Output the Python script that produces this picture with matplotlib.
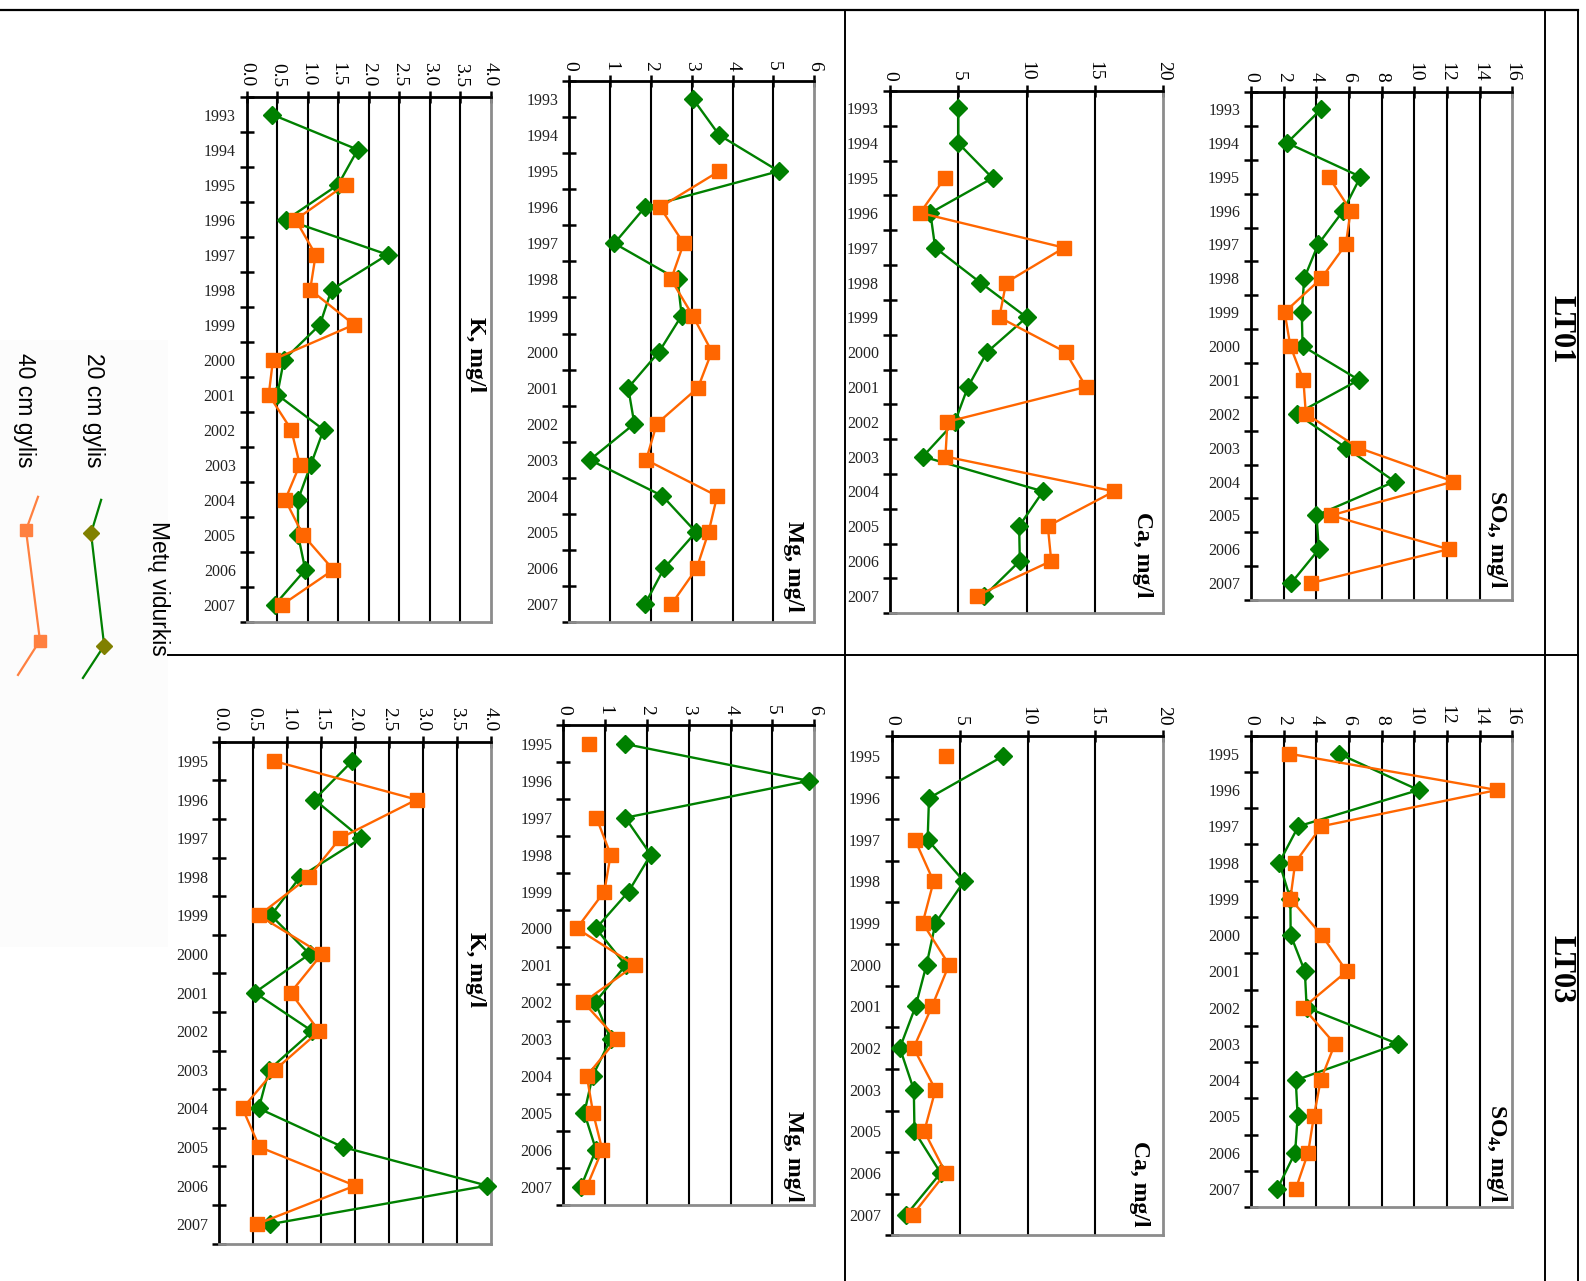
import matplotlib
matplotlib.use("Agg")
import matplotlib.pyplot as plt
import numpy as np

plt.rcParams["font.family"] = ["Liberation Serif", "DejaVu Serif"]
plt.rcParams["mathtext.fontset"] = "custom"
plt.rcParams["mathtext.rm"] = "Liberation Serif:bold"
plt.rcParams["mathtext.it"] = "Liberation Serif:italic:bold"
plt.rcParams["mathtext.bf"] = "Liberation Serif:bold"

nan = np.nan

# categories
years_93 = [str(y) for y in range(1993, 2008)]
years_95 = [str(y) for y in range(1995, 2008)]
years_95_no04 = ["1995", "1996", "1997", "1998", "1999", "2000", "2001", "2002",
                 "2003", "2005", "2006", "2007"]

# LT01, 1993-2007
lt01_so4_20 = [4.3, 2.2, 6.7, 5.65, 4.1, 3.25, 3.1, 3.15, 6.6, 2.8, 5.8, 8.8, 4.0, 4.15, 2.45]
lt01_so4_40 = [nan, nan, 4.75, 6.1, 5.8, 4.3, 2.05, 2.4, 3.2, 3.35, 6.55, 12.4, 4.9, 12.1, 3.65]
lt01_ca_20 = [5.0, 5.0, 7.5, 2.95, 3.3, 6.6, 10.0, 7.1, 5.7, 4.75, 2.4, 11.2, 9.45, 9.5, 6.9]
lt01_ca_40 = [nan, nan, 4.0, 2.2, 12.75, 8.5, 8.0, 12.85, 14.35, 4.2, 4.05, 16.4, 11.55, 11.8, 6.35]
lt01_mg_20 = [3.03, 3.67, 5.13, 1.85, 1.1, 2.65, 2.75, 2.2, 1.44, 1.59, 0.5, 2.28, 3.1, 2.32, 1.85]
lt01_mg_40 = [nan, nan, 3.67, 2.22, 2.8, 2.49, 3.02, 3.49, 3.15, 2.14, 1.88, 3.62, 3.41, 3.12, 2.5]
lt01_k_20 = [0.42, 1.82, 1.5, 0.65, 2.31, 1.39, 1.2, 0.61, 0.5, 1.26, 1.05, 0.84, 0.84, 0.96, 0.46]
lt01_k_40 = [nan, nan, 1.62, 0.8, 1.13, 1.04, 1.76, 0.43, 0.36, 0.73, 0.87, 0.63, 0.92, 1.42, 0.58]

# LT03, 1995-2007 (Ca without 2004)
lt03_so4_20 = [5.37, 10.26, 2.89, 1.72, 2.4, 2.42, 3.29, 3.4, 9.0, 2.73, 2.85, 2.69, 1.6]
lt03_so4_40 = [2.34, 15.07, 4.3, 2.7, 2.4, 4.32, 5.86, 3.19, 5.13, 4.26, 3.84, 3.49, 2.73]
lt03_ca_20 = [8.15, 2.72, 2.62, 5.3, 3.2, 2.54, 1.73, 0.57, 1.6, 1.65, 3.58, 1.06]
lt03_ca_40 = [3.95, nan, 1.68, 3.06, 2.25, 4.2, 2.94, 1.58, 3.2, 2.37, 3.95, 1.53]
lt03_mg_20 = [1.47, 5.87, 1.48, 2.09, 1.56, 0.78, 1.49, 0.76, 1.13, 0.7, 0.5, 0.78, 0.42]
lt03_mg_40 = [0.62, nan, 0.79, 1.13, 0.98, 0.32, 1.71, 0.48, 1.28, 0.56, 0.71, 0.93, 0.56]
lt03_k_20 = [1.96, 1.4, 2.09, 1.19, 0.76, 1.33, 0.52, 1.37, 0.73, 0.58, 1.82, 3.95, 0.74]
lt03_k_40 = [0.8, 2.91, 1.78, 1.32, 0.58, 1.51, 1.05, 1.47, 0.82, 0.34, 0.59, 2.0, 0.55]

GREEN = "#008000"
ORANGE = "#ff6600"
W, H = 1568, 1266  # layout units (pixels of the page)

fig = plt.figure(figsize=(15.86, 12.81), dpi=100)

# page frame, legend and station labels
page = fig.add_axes([0, 0, 1, 1])
page.set_xlim(0, W)
page.set_ylim(H, 0)
page.axis("off")
page.add_patch(plt.Rectangle((0, 336), 166, 600, color="#fcfcfc", lw=0, zorder=0))
page.plot([0, 1560], [10, 10], color="black", lw=1.6)
page.plot([166, 1560], [647, 647], color="black", lw=1.4)
for x in (835, 1527, 1560):
    page.plot([x, x], [10, H], color="black", lw=1.4)
page.text(1543, 325, "LT01", rotation=-90, ha="center", va="center", fontsize=22, fontweight="bold")
page.text(1543, 958, "LT03", rotation=-90, ha="center", va="center", fontsize=22, fontweight="bold")

leg_font = ["Liberation Sans", "DejaVu Sans"]
page.text(157, 581, "Metų vidurkis", rotation=-90, ha="center", va="center", fontsize=16.5, family=leg_font)
page.text(92, 405, "20 cm gylis", rotation=-90, ha="center", va="center", fontsize=16.5, family=leg_font)
page.text(24, 405, "40 cm gylis", rotation=-90, ha="center", va="center", fontsize=16.5, family=leg_font)
page.plot([100, 90, 103, 82], [494, 527, 638, 670], color=GREEN, lw=1.6, marker="D", ms=8,
          mfc="#808000", mec="#808000", markevery=[1, 2])
page.plot([37.6, 25.7, 39.5, 17.8], [491, 524, 633, 667], color="#ff8040", lw=1.6, marker="s", ms=8,
          mfc="#ff8040", mec="#ff8040", markevery=[1, 2])


def draw_panel(box, years, d20, d40, vmax, vstep, fmt, title, title_xy):
    left, right, top, bottom = box
    ax = fig.add_axes([left / W, 1 - bottom / H, (right - left) / W, (bottom - top) / H])
    n = len(years)
    pos = np.arange(n)
    ax.plot(d20, pos, color=GREEN, lw=1.7, marker="D", ms=9, zorder=3, clip_on=False)
    ax.plot(d40, pos, color=ORANGE, lw=1.7, marker="s", ms=10, zorder=4, clip_on=False)
    ax.set_xlim(0, vmax)
    ax.set_ylim(n - 0.5, -0.5)

    ticks = np.arange(0, vmax + vstep / 2, vstep)
    ax.set_xticks(ticks)
    ax.set_xticklabels([fmt.format(t) for t in ticks])
    ax.xaxis.tick_top()
    ax.tick_params(axis="x", direction="inout", length=9, width=1.8,
                   labelrotation=-90, labelsize=14, pad=3)
    for t in ticks[1:-1]:
        ax.axvline(t, color="black", lw=1.5, zorder=1)

    ax.set_yticks(np.arange(n + 1) - 0.5)
    ax.set_yticklabels([])
    ax.set_yticks(pos, minor=True)
    ax.set_yticklabels(years, minor=True)
    ax.tick_params(axis="y", which="major", direction="inout", length=10, width=1.8)
    ax.tick_params(axis="y", which="minor", length=0, labelsize=11.5, pad=8, labelcolor="#222222")

    for side in ("top", "left"):
        ax.spines[side].set_color("black")
        ax.spines[side].set_linewidth(2)
    for side in ("right", "bottom"):
        ax.spines[side].set_color("#8c8c8c")
        ax.spines[side].set_linewidth(2)

    ax.text(title_xy[0], title_xy[1], title, transform=ax.transAxes, rotation=-90,
            ha="center", va="center", fontsize=17, fontweight="bold")
    return ax


so4_title = "SO$_4$, mg/l"

draw_panel((1237, 1495, 91, 593), years_93, lt01_so4_20, lt01_so4_40, 16, 2, "{:.0f}", so4_title, (0.94, 0.12))
draw_panel((880, 1150, 90, 606), years_93, lt01_ca_20, lt01_ca_40, 20, 5, "{:.0f}", "Ca, mg/l", (0.926, 0.112))
draw_panel((563, 805, 80, 615), years_93, lt01_mg_20, lt01_mg_40, 6, 1, "{:.0f}", "Mg, mg/l", (0.917, 0.103))
draw_panel((244, 485, 96, 615), years_93, lt01_k_20, lt01_k_40, 4, 0.5, "{:.1f}", "K, mg/l", (0.938, 0.51))

draw_panel((1237, 1495, 727, 1193), years_95, lt03_so4_20, lt03_so4_40, 16, 2, "{:.0f}", so4_title, (0.94, 0.114))
draw_panel((882, 1150, 727, 1221), years_95_no04, lt03_ca_20, lt03_ca_40, 20, 5, "{:.0f}", "Ca, mg/l", (0.914, 0.103))
draw_panel((557, 805, 717, 1191), years_95, lt03_mg_20, lt03_mg_40, 6, 1, "{:.0f}", "Mg, mg/l", (0.919, 0.101))
draw_panel((217, 485, 733, 1229), years_95, lt03_k_20, lt03_k_40, 4, 0.5, "{:.1f}", "K, mg/l", (0.944, 0.546))

fig.savefig("out.png", dpi=100)
